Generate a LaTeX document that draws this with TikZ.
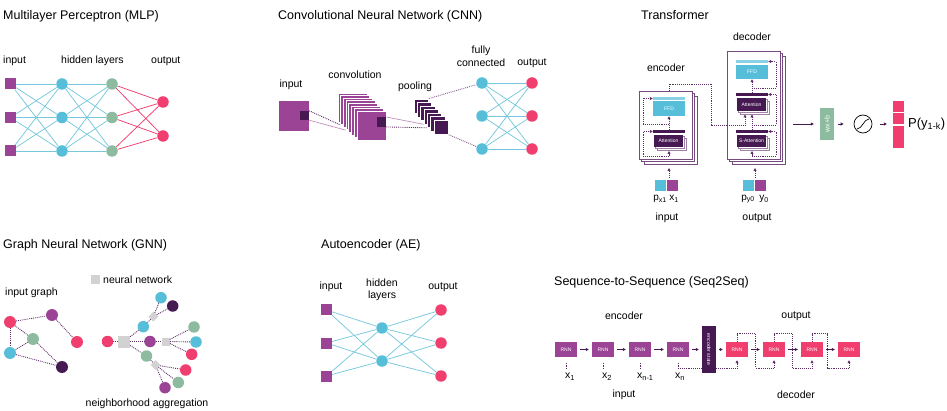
\documentclass[tikz,border=0pt]{standalone}
\usepackage{fontspec}
\setmainfont{Liberation Sans}
\usetikzlibrary{arrows.meta,backgrounds,calc}
\definecolor{mpurple}{RGB}{155,67,148}
\definecolor{mcyan}{RGB}{86,190,216}
\definecolor{lcyan}{RGB}{118,200,222}
\definecolor{mgreen}{RGB}{141,187,160}
\definecolor{mpink}{RGB}{240,62,110}
\definecolor{mdark}{RGB}{70,25,82}
\definecolor{mgray}{RGB}{210,210,210}
\definecolor{dotc}{RGB}{95,45,105}
\definecolor{boxc}{RGB}{120,75,128}
\begin{document}
\begin{tikzpicture}[x=1pt,y=-1pt,
 ttl/.style={anchor=west,inner sep=0pt,font=\fontsize{12.5}{14}\selectfont},
 lab/.style={inner sep=0pt,font=\fontsize{10.5}{12}\selectfont},
 sqn/.style={rectangle,fill=mpurple,minimum size=11pt,inner sep=0pt},
 nd/.style={circle,fill=#1,minimum size=11.5pt,inner sep=0pt},
 cyl/.style={draw=lcyan,line width=0.75pt},
 pkl/.style={draw=mpink,line width=0.75pt},
 dotl/.style={draw=dotc,densely dotted,line width=0.9pt},
 arr/.style={-{Triangle[length=3pt,width=3pt]}},
 smalltxt/.style={text=white,inner sep=0pt,font=\fontsize{5}{6}\selectfont},
 convsq/.style={rectangle,fill=mpurple,draw=white,line width=0.7pt,minimum size=29pt,inner sep=0pt},
 poolsq/.style={rectangle,fill=mdark,draw=white,line width=0.7pt,minimum size=14.5pt,inner sep=0pt},
 tbox/.style={rectangle,draw=boxc,fill=white,line width=0.8pt,minimum width=53pt,minimum height=68pt,inner sep=0pt},
 stripn/.style={rectangle,fill=#1,minimum width=32pt,minimum height=3pt,inner sep=0pt},
 attn/.style={rectangle,fill=mdark,minimum width=29pt,minimum height=12pt,smalltxt},
 attsh/.style={rectangle,fill=white,draw=boxc!70,line width=0.6pt,minimum width=29pt,minimum height=12pt,inner sep=0pt},
 rnn/.style={rectangle,fill=#1,minimum width=22pt,minimum height=15pt,smalltxt},
 sarr/.style={arr,draw=mdark,line width=0.8pt,shorten <=3pt,shorten >=3pt},
]
\useasboundingbox (0,0) rectangle (947,411);

% ---------------- MLP ----------------
\node[ttl] (t1) at (3,16) {Multilayer Perceptron (MLP)};
\node[lab,anchor=west] (l1a) at (3,61) {input};
\node[lab,anchor=west] (l1b) at (61,61) {hidden layers};
\node[lab,anchor=west] (l1c) at (151,61) {output};
\foreach \i/\y in {1/84,2/117.5,3/151}{
  \node[sqn] (mi\i) at (10.5,\y) {};
  \node[nd=mcyan] (mh\i) at (62,\y) {};
  \node[nd=mgreen] (mg\i) at (112,\y) {};
}
\node[nd=mpink] (mo1) at (163,102) {};
\node[nd=mpink] (mo2) at (163,136) {};
\foreach \a in {1,2,3}{
  \foreach \b in {1,2,3}{\draw[cyl] (mi\a)--(mh\b); \draw[cyl] (mh\a)--(mg\b);}
  \foreach \b in {1,2}{\draw[pkl] (mg\a)--(mo\b);}
}

% ---------------- CNN ----------------
\node[ttl] (t2) at (278,16) {Convolutional Neural Network (CNN)};
\node[lab] (l2a) at (291,85) {input};
\node[lab] (l2b) at (355,75) {convolution};
\node[lab] (l2c) at (415,87) {pooling};
\node[lab] (l2d) at (481,51) {fully};
\node[lab] (l2e) at (481,63) {connected};
\node[lab] (l2f) at (532,63) {output};
\node[rectangle,fill=mpurple,minimum size=30pt,inner sep=0pt] (cin) at (294,116) {};
\node[rectangle,fill=mdark,minimum size=9pt,inner sep=0pt] (cins) at (304.5,115.5) {};
\foreach \k in {0,...,7}{\node[convsq] (cv\k) at ({352.5+\k*2.7},{107.5+\k*2.6}) {};}
\node[rectangle,fill=mdark,minimum size=9.5pt,inner sep=0pt] (cvs) at (381.5,122) {};
\draw[dotl] (cins.north east) -- (cv1.south west);
\draw[draw=mpurple!60,line width=0.7pt] (cins.south east) -- (cv3.south west);
\foreach \k in {0,...,6}{\node[poolsq] (pl\k) at ({421.2+\k*3.33},{106.2+\k*3.5}) {};}
\draw[draw=mpurple!60,line width=0.7pt] (cvs.north east) -- (pl3.south west);
\draw[dotl] (cvs.south east) -- (pl4.south west);
\foreach \i/\y in {1/83,2/116,3/149}{
  \node[nd=mcyan] (fc\i) at (482,\y) {};
  \node[nd=mpink] (fo\i) at (532,\y) {};
}
\foreach \a in {1,2,3}{\foreach \b in {1,2,3}{\draw[cyl] (fc\a)--(fo\b);}}
\draw[dotl,draw=dotc!75] (pl0.north east) -- (fc1);
\draw[dotl,draw=dotc!75] (pl6.south east) -- (fc3);

% ---------------- Transformer ----------------
\node[ttl] (t3) at (641,15) {Transformer};
\node[lab] (l3a) at (752,37) {decoder};
\node[lab] (l3b) at (666,68) {encoder};
\node[tbox] (enc3) at (670.5,130) {};
\node[tbox] (enc2) at (668,127.5) {};
\node[tbox] (enc) at (665.5,125) {};
\node[tbox,minimum height=108pt] (dec3) at (758.5,110) {};
\node[tbox,minimum height=108pt] (dec2) at (756,107.5) {};
\node[tbox,minimum height=108pt] (dec) at (753.5,105) {};
% encoder internals
\node[stripn=mcyan!70] (effs) at (669,98.5) {};
\node[rectangle,fill=mcyan,minimum width=32pt,minimum height=15pt,smalltxt] (effd) at (669,108.5) {FFD};
\node[stripn=mdark] (eats) at (669,131.5) {};
\node[attsh] (eat3) at (671.5,144) {};
\node[attsh] (eat2) at (670,142.5) {};
\node[attn] (eat) at (668.5,141) {Attention};
% decoder internals
\node[stripn=mcyan!70] (dffs) at (752,61.5) {};
\node[rectangle,fill=mcyan,minimum width=32pt,minimum height=14pt,smalltxt] (dffd) at (752,72) {FFD};
\node[stripn=mdark] (dats) at (752,94.5) {};
\node[attsh,minimum height=13pt] (dat3) at (754.5,107.5) {};
\node[attsh,minimum height=13pt] (dat2) at (753,106) {};
\node[attn,minimum height=13pt] (dat) at (751.5,104.5) {Attention};
\node[stripn=mdark] (dsats) at (752,131.5) {};
\node[attsh] (dsat3) at (754.5,144) {};
\node[attsh] (dsat2) at (753,142.5) {};
\node[attn] (dsat) at (751.5,141) {S-Attention};
% encoder loops
\coordinate (eb) at (669,156);
\draw[dotl,arr] (eb) -- (669,151);
\draw[dotl,arr] (eb) -| (643,131.5) -- (eats.west);
\draw[dotl,arr] (eats.north) -- (effd.south);
\draw[dotl,arr] (669,124.5) -| (643,98.5) -- (effs.west);
\draw[dotl,arr] (669,91) |- (711,84) |- (745,125) -- (745,114.5);
% decoder loops
\coordinate (db) at (752,156);
\draw[dotl,arr] (db) -- (752,151);
\draw[dotl,arr] (db) -| (776,131.5) -- (dsats.east);
\draw[dotl,arr] (dsats.north) -- (752,114.5);
\draw[dotl,arr] (752,125) -| (776,94.5) -- (dats.east);
\draw[dotl,arr] (dats.north) -- (dffd.south);
\draw[dotl,arr] (752,88) -| (776,61.5) -- (dffs.east);
% inputs
\draw[dotl,arr] (669,178) -- (669,168);
\draw[dotl,arr] (755,178) -- (755,168);
\node[rectangle,fill=mcyan,minimum size=11pt,inner sep=0pt] (epx) at (660.5,185.5) {};
\node[rectangle,fill=mpurple,minimum size=11pt,inner sep=0pt] (epu) at (672.5,185.5) {};
\node[rectangle,fill=mcyan,minimum size=11pt,inner sep=0pt] (dpx) at (748.5,185.5) {};
\node[rectangle,fill=mpurple,minimum size=11pt,inner sep=0pt] (dpu) at (760.5,185.5) {};
\node[lab,font=\fontsize{10}{12}\selectfont] (lpx) at (660,199) {p\textsubscript{x1}};
\node[lab,font=\fontsize{10}{12}\selectfont] (lx1) at (674,199) {x\textsubscript{1}};
\node[lab,font=\fontsize{10}{12}\selectfont] (lpy) at (748,199) {p\textsubscript{y0}};
\node[lab,font=\fontsize{10}{12}\selectfont] (ly0) at (764,199) {y\textsubscript{0}};
\node[lab] (l3c) at (667,218) {input};
\node[lab] (l3d) at (757,218) {output};
% output head
\coordinate (dout) at (793,124);
\node[rectangle,fill=mgreen,minimum width=14pt,minimum height=32pt,inner sep=0pt] (wx) at (827,124) {};
\node[rotate=90,text=white,inner sep=0pt,font=\fontsize{7}{8}\selectfont] (wxt) at (wx) {wx+b};
\node[circle,draw=black,line width=0.7pt,minimum size=18pt,inner sep=0pt] (sig) at (863,124) {};
\draw[line width=0.7pt] ($(sig.center)+(-6,5)$) .. controls ($(sig.center)+(-1,5)$) and ($(sig.center)+(1,-5)$) .. ($(sig.center)+(6,-5)$);
\node[rectangle,fill=mpink,minimum width=11pt,minimum height=11pt,inner sep=0pt] (pk1) at (898.5,106.5) {};
\node[rectangle,fill=mpink,minimum width=11pt,minimum height=11pt,inner sep=0pt] (pk2) at (898.5,118.5) {};
\node[rectangle,fill=mpink,minimum width=11pt,minimum height=22pt,inner sep=0pt] (pk3) at (898.5,137) {};
\draw[arr,draw=mdark,line width=0.8pt,shorten >=6pt] (dout) -- (wx.west);
\draw[arr,draw=mdark,line width=0.8pt,shorten <=4pt,shorten >=10pt] (wx.east) -- (sig.west);
\draw[arr,draw=mdark,line width=0.8pt,shorten <=8pt,shorten >=6pt] (sig.east) -- (sig.east -| pk3.west);
\node[anchor=west,inner sep=0pt,font=\fontsize{13}{15}\selectfont] (lpy1) at (908,124) {P(y\textsubscript{1-k})};

% ---------------- GNN ----------------
\node[ttl] (t4) at (3,245) {Graph Neural Network (GNN)};
\node[lab] (l4a) at (31.5,293) {input graph};
\node[rectangle,fill=mgray,minimum size=9pt,inner sep=0pt] (leg) at (95.5,280) {};
\node[lab,anchor=west] (l4b) at (103,280) {neural network};
\node[lab] (l4c) at (147,404) {neighborhood aggregation};
\node[nd=mpink,minimum size=12pt] (ga) at (10,322) {};
\node[nd=mpurple,minimum size=12pt] (gb) at (52,315) {};
\node[nd=mgreen,minimum size=12pt] (gc) at (33,339) {};
\node[nd=mcyan,minimum size=12pt] (gd) at (10,353) {};
\node[nd=mpink,minimum size=12pt] (ge) at (77,342) {};
\node[nd=mdark,minimum size=12pt] (gf) at (62,367) {};
\foreach \u/\v in {ga/gb,ga/gd,ga/gc,gc/gd,gd/gf,gc/gf,gb/ge}{\draw[dotl] (\u)--(\v);}
% aggregation
\node[nd=mpink] (ar) at (107.5,341.5) {};
\node[rectangle,fill=mgray,minimum size=12pt,inner sep=0pt] (ag0) at (124,341.5) {};
\node[nd=mcyan] (ac) at (143.3,326.7) {};
\node[nd=mpurple] (ap) at (150,341.5) {};
\node[nd=mgreen] (agr) at (146.5,356) {};
\node[rectangle,fill=mgray,minimum size=7pt,inner sep=0pt,rotate=45] (ad1) at (153.3,316.7) {};
\node[nd=mcyan] (ac2) at (161,297.7) {};
\node[nd=mdark] (ak) at (172.7,306) {};
\node[rectangle,fill=mgray,minimum size=8pt,inner sep=0pt] (as2) at (165.7,341.5) {};
\node[nd=mgreen] (ag2) at (194,327) {};
\node[nd=mcyan] (ac3) at (196,342) {};
\node[nd=mpink] (ap2) at (191.7,354.3) {};
\node[rectangle,fill=mgray,minimum size=7pt,inner sep=0pt,rotate=45] (ad2) at (155.5,365) {};
\node[nd=mpink] (ap3) at (185.7,370) {};
\node[nd=mgreen] (ag3) at (178.3,382.5) {};
\node[nd=mpurple] (au3) at (165,387.7) {};
\foreach \u/\v in {ar/ag0,ag0/ac,ag0/ap,ag0/agr,ac/ad1,ad1/ac2,ad1/ak,ap/as2,as2/ag2,as2/ac3,as2/ap2,agr/ad2,ad2/ap3,ad2/ag3,ad2/au3}{\draw[dotl] (\u)--(\v);}

% ---------------- Autoencoder ----------------
\node[ttl] (t5) at (321,245) {Autoencoder (AE)};
\node[lab] (l5a) at (331,287) {input};
\node[lab] (l5b) at (382,283) {hidden};
\node[lab] (l5c) at (382,296) {layers};
\node[lab] (l5d) at (443,287) {output};
\foreach \i/\y in {1/310,2/343,3/376}{
  \node[sqn] (ai\i) at (326.5,\y) {};
  \node[nd=mpink] (ao\i) at (441,\y) {};
}
\node[nd=mcyan] (ah1) at (382,328) {};
\node[nd=mcyan] (ah2) at (382,361) {};
\foreach \a in {1,2,3}{\foreach \b in {1,2}{\draw[cyl] (ai\a)--(ah\b); \draw[cyl] (ah\b)--(ao\a);}}

% ---------------- Seq2Seq ----------------
\node[ttl] (t6) at (554,282) {Sequence-to-Sequence (Seq2Seq)};
\node[lab] (l6a) at (624,316) {encoder};
\node[lab] (l6b) at (796,316) {output};
\node[lab] (l6c) at (624,395) {input};
\node[lab] (l6d) at (796,395) {decoder};
\foreach \i/\x in {1/566,2/603,3/640,4/678}{\node[rnn=mpurple] (r\i) at (\x,349.5) {RNN};}
\foreach \i/\x in {1/737,2/774,3/812,4/849}{\node[rnn=mpink] (p\i) at (\x,349.5) {RNN};}
\begin{scope}[on background layer]
\draw[dotl,arr,shorten >=3pt] ($(r4.south)+(0,11.5)$) -| (p1.south);
\end{scope}
\node[rectangle,fill=mdark,minimum width=14pt,minimum height=46pt,inner sep=0pt] (es) at (709,349.5) {};
\node[rotate=-90,text=white,inner sep=0pt,font=\fontsize{5.2}{6}\selectfont] (est) at (es) {encoder state};
\foreach \u/\v in {r1/r2,r2/r3,r3/r4,r4/es,es/p1,p1/p2,p2/p3,p3/p4}{\draw[sarr] (\u)--(\v);}
\foreach \i in {1,2,3,4}{\draw[dotl] ($(r\i.south)+(0,12)$) -- ($(r\i.south)+(0,4.5)$);}
\draw[dotl,arr,shorten >=3pt] (p1.north) -- ++(0,-8) -| (755.5,368) -| (p2.south);
\draw[dotl,arr,shorten >=3pt] (p2.north) -- ++(0,-8) -| (792,368) -| (p3.south);
\draw[dotl,arr,shorten >=3pt] (p3.north) -- ++(0,-8) -| (827.5,368) -| (p4.south);
\node[lab,anchor=west] (x1) at (565,377) {x\textsubscript{1}};
\node[lab,anchor=west] (x2) at (602,377) {x\textsubscript{2}};
\node[lab,anchor=west] (x3) at (637,377) {x\textsubscript{n-1}};
\node[lab,anchor=west] (x4) at (675,377) {x\textsubscript{n}};
\end{tikzpicture}
\end{document}
